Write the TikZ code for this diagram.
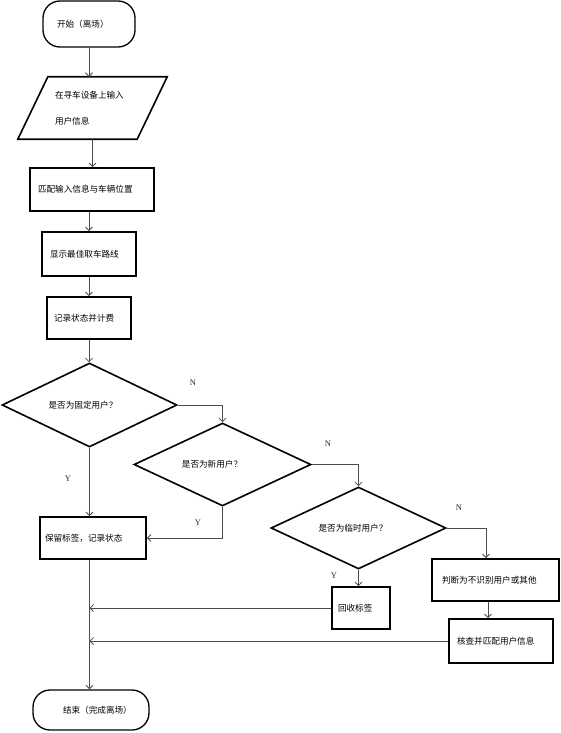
\documentclass[tikz,border=0pt]{standalone}
\usepackage{fontspec}
\newfontfamily\cjk{Noto Sans CJK SC}
\newfontfamily\lat{Liberation Serif}
\usetikzlibrary{shapes.geometric,arrows.meta}
\begin{document}
\begin{tikzpicture}[x=1pt,y=-1pt,
  box/.style={draw, line width=1.8pt, rectangle, align=left, inner ysep=0pt,
    font=\cjk\fontsize{8.6}{10}\selectfont, text=black},
  term/.style={box, line width=1.3pt, rounded corners=17pt},
  dia/.style={draw, diamond, line width=1.6pt, inner sep=0pt},
  lab/.style={font=\cjk\fontsize{8.6}{10}\selectfont, inner sep=0pt, text=black},
  yn/.style={font=\lat\fontsize{8.5}{9}\selectfont, inner sep=0pt, text=black!85},
  conn/.style={draw=black!70, line width=0.8pt, -{Straight Barb[length=3.5pt,width=7pt]}},
  plain/.style={draw=black!70, line width=0.8pt}]
\useasboundingbox (0,0) rectangle (560,733);

% terminals and boxes
\node[term, text width=64pt, inner xsep=14pt, minimum height=46pt] (start) at (89,24) {开始（离场）};
\node[lab, align=left, text width=75pt, inner xsep=22pt, minimum height=62pt,
  font=\cjk\fontsize{8.6}{26}\selectfont] (in) at (92.5,108) {在寻车设备上输入\\用户信息};
\draw[line width=1.6pt] ([xshift=15pt]in.north west) -- ([xshift=15pt]in.north east)
  -- ([xshift=-15pt]in.south east) -- ([xshift=-15pt]in.south west) -- cycle;
\node[box, text width=108pt, inner xsep=8pt, minimum height=43pt] (match) at (92,189.5) {匹配输入信息与车辆位置};
\node[box, text width=78pt, inner xsep=8pt, minimum height=44pt] (show) at (89,254) {显示最佳取车路线};
\node[box, text width=70pt, inner xsep=7pt, minimum height=42pt] (rec) at (89,318) {记录状态并计费};

% decisions
\node[dia, minimum width=175pt, minimum height=84pt] (d1) at (89.5,405) {};
\node[lab] (d1t) at (83,405) {是否为固定用户？};
\node[dia, minimum width=177pt, minimum height=83pt] (d2) at (222.5,464.5) {};
\node[lab] (d2t) at (212,464.5) {是否为新用户？};
\node[dia, minimum width=175pt, minimum height=82pt] (d3) at (358.5,528) {};
\node[lab] (d3t) at (353,528) {是否为临时用户？};

% outcome boxes
\node[box, text width=96pt, inner xsep=5pt, minimum height=42pt] (keep) at (93,538) {保留标签，记录状态};
\node[box, text width=46pt, inner xsep=6pt, minimum height=42pt] (back) at (361,608) {回收标签};
\node[box, text width=107pt, inner xsep=10pt, minimum height=42pt] (judge) at (495.5,580) {判断为不识别用户或其他};
\node[box, text width=88pt, inner xsep=8pt, minimum height=44pt] (verify) at (501,641) {核查并匹配用户信息};
\node[term, text width=56pt, inner xsep=30pt, minimum height=40pt] (end) at (91,710) {结束（完成离场）};

% Y / N labels
\node[yn] (n1) at (193,383) {N};
\node[yn] (n2) at (328,444) {N};
\node[yn] (n3) at (459,508) {N};
\node[yn] (y1) at (68,479) {Y};
\node[yn] (y2) at (198,523) {Y};
\node[yn] (y3) at (334,576) {Y};

% connectors
\draw[conn] (start.south) -- (start.south |- in.north);
\draw[conn] (in.south) -- (in.south |- match.north);
\draw[conn] (show.north |- match.south) -- (show.north);
\draw[conn] (rec.north |- show.south) -- (rec.north);
\draw[conn] (rec.south) -- (rec.south |- d1.north);
\draw[conn] (d1.east) -| (d2.north);
\draw[conn] (d2.east) -| (d3.north);
\draw[conn] (d3.east) -| ([xshift=-9.5pt]judge.north);
\draw[conn] ([xshift=-7.5pt]judge.south) -- ([xshift=-7.5pt]judge.south |- verify.north);
\draw[conn] (d3.south) -- (d3.south |- back.north);
\draw[conn] (d1.south) -- (d1.south |- keep.north);
\draw[conn] (d2.south) |- (keep.east);
\draw[conn] (d1.south |- keep.south) -- (d1.south |- end.north);
\draw[conn] (back.west) -- (back.west -| d1.south);
\draw[conn] (verify.west) -- (verify.west -| d1.south);
\end{tikzpicture}
\end{document}
